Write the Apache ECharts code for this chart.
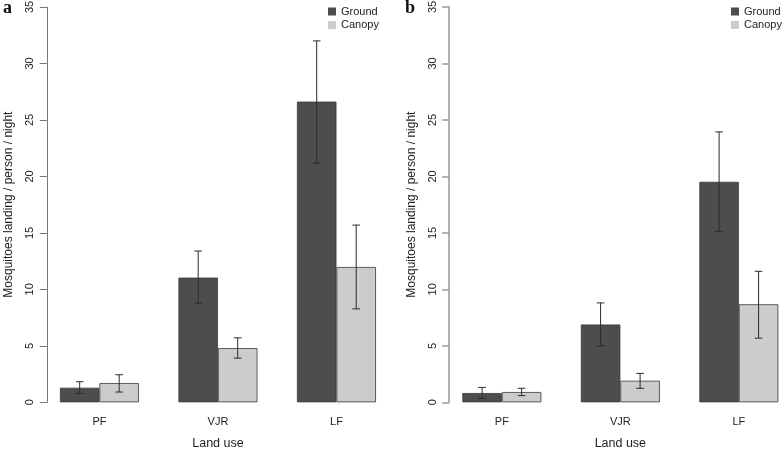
<!DOCTYPE html>
<html>
<head>
<meta charset="utf-8">
<script src="https://cdn.jsdelivr.net/npm/echarts@6/dist/echarts.min.js"></script>
<style>html,body{margin:0;padding:0;background:#fff}#c{width:784px;height:450px}</style>
</head>
<body>
<div id="c"></div>
<script>
var categories = ['PF', 'VJR', 'LF'];
var yTicks = [0, 5, 10, 15, 20, 25, 30, 35];

// Panel a
var groundA = [1.29, 11.04, 26.62];
var groundALow = [0.79, 8.77, 21.17];
var groundAHigh = [1.82, 13.39, 32.0];
var canopyA = [1.70, 4.80, 11.98];
var canopyALow = [0.91, 3.91, 8.27];
var canopyAHigh = [2.44, 5.71, 15.69];

// Panel b
var groundB = [0.82, 6.89, 19.52];
var groundBLow = [0.35, 5.00, 15.13];
var groundBHigh = [1.32, 8.80, 23.94];
var canopyB = [0.91, 1.91, 8.68];
var canopyBLow = [0.59, 1.24, 5.68];
var canopyBHigh = [1.24, 2.56, 11.60];

var FONT = '"Liberation Sans", Arial, Helvetica, sans-serif';
var GROUND_COLOR = '#4d4d4d';
var CANOPY_COLOR = '#cccccc';

function errData(low, high) {
  return categories.map(function (c, i) { return [i, low[i], high[i]]; });
}

function errSeries(gridIdx, low, high, side) {
  return {
    type: 'custom',
    xAxisIndex: gridIdx,
    yAxisIndex: gridIdx,
    z: 10,
    silent: true,
    data: errData(low, high),
    renderItem: function (params, api) {
      var band = api.size([1, 0])[0];
      var lo = api.coord([api.value(0), api.value(1)]);
      var hi = api.coord([api.value(0), api.value(2)]);
      var x = lo[0] + side * band / 6;
      var cap = 3.8;
      var st = { stroke: '#2a2a2a', lineWidth: 1 };
      return {
        type: 'group',
        children: [
          { type: 'line', shape: { x1: x, y1: lo[1], x2: x, y2: hi[1] }, style: st },
          { type: 'line', shape: { x1: x - cap, y1: lo[1], x2: x + cap, y2: lo[1] }, style: st },
          { type: 'line', shape: { x1: x - cap, y1: hi[1], x2: x + cap, y2: hi[1] }, style: st }
        ]
      };
    }
  };
}

function barSeries(gridIdx, name, values, color) {
  return {
    type: 'bar',
    name: name,
    xAxisIndex: gridIdx,
    yAxisIndex: gridIdx,
    data: values,
    barWidth: 39.5,
    barGap: '0%',
    itemStyle: { color: color, borderColor: '#3a3a3a', borderWidth: 0.8 }
  };
}

function xAxisDef(gridIdx) {
  return {
    type: 'category',
    gridIndex: gridIdx,
    data: categories,
    axisLine: { show: false },
    axisTick: { show: false },
    axisLabel: { color: '#222', fontSize: 11, fontFamily: FONT, margin: 14 },
    name: 'Land use',
    nameLocation: 'middle',
    nameGap: 35,
    nameTextStyle: { color: '#222', fontSize: 12.5, fontFamily: FONT }
  };
}

function yAxisDef(gridIdx, axisColor, axisWidth) {
  return {
    type: 'value',
    gridIndex: gridIdx,
    min: yTicks[0],
    max: yTicks[yTicks.length - 1],
    interval: 5,
    offset: -6.6,
    splitLine: { show: false },
    axisLine: { show: true, lineStyle: { color: axisColor, width: axisWidth } },
    axisTick: { show: true, length: 7, lineStyle: { color: axisColor, width: axisWidth } },
    axisLabel: { color: '#222', fontSize: 11, fontFamily: FONT, rotate: 90, margin: 11 },
    name: 'Mosquitoes landing / person / night',
    nameLocation: 'middle',
    nameGap: 32,
    nameTextStyle: { color: '#222', fontSize: 12, fontFamily: FONT }
  };
}

function legendDef(left) {
  return {
    left: left,
    top: 5,
    orient: 'vertical',
    icon: 'rect',
    itemWidth: 8,
    itemHeight: 8,
    itemGap: 0.5,
    padding: 0,
    data: ['Ground', 'Canopy'],
    itemStyle: { borderWidth: 0 },
    textStyle: { color: '#222', fontSize: 11, fontFamily: FONT, lineHeight: 13 }
  };
}

var chart = echarts.init(document.getElementById('c'), null, { renderer: 'canvas' });
chart.setOption({
  animation: false,
  backgroundColor: '#ffffff',
  title: [
    { text: 'a', left: 3, top: -1, padding: 0,
      textStyle: { fontFamily: '"Liberation Serif", "DejaVu Serif", serif', fontWeight: 'bold', fontSize: 18, color: '#111' } },
    { text: 'b', left: 405, top: -1, padding: 0,
      textStyle: { fontFamily: '"Liberation Serif", "DejaVu Serif", serif', fontWeight: 'bold', fontSize: 18, color: '#111' } }
  ],
  legend: [legendDef(328), legendDef(731)],
  grid: [
    { left: 40.2, top: 7, width: 355.5, height: 395.3, outerBoundsMode: 'none' },
    { left: 442.6, top: 7, width: 355.5, height: 395.3, outerBoundsMode: 'none' }
  ],
  xAxis: [xAxisDef(0), xAxisDef(1)],
  yAxis: [yAxisDef(0, '#777', 1), yAxisDef(1, '#999', 1.5)],
  series: [
    barSeries(0, 'Ground', groundA, GROUND_COLOR),
    barSeries(0, 'Canopy', canopyA, CANOPY_COLOR),
    barSeries(1, 'Ground', groundB, GROUND_COLOR),
    barSeries(1, 'Canopy', canopyB, CANOPY_COLOR),
    errSeries(0, groundALow, groundAHigh, -1),
    errSeries(0, canopyALow, canopyAHigh, 1),
    errSeries(1, groundBLow, groundBHigh, -1),
    errSeries(1, canopyBLow, canopyBHigh, 1)
  ]
});
</script>
</body>
</html>
